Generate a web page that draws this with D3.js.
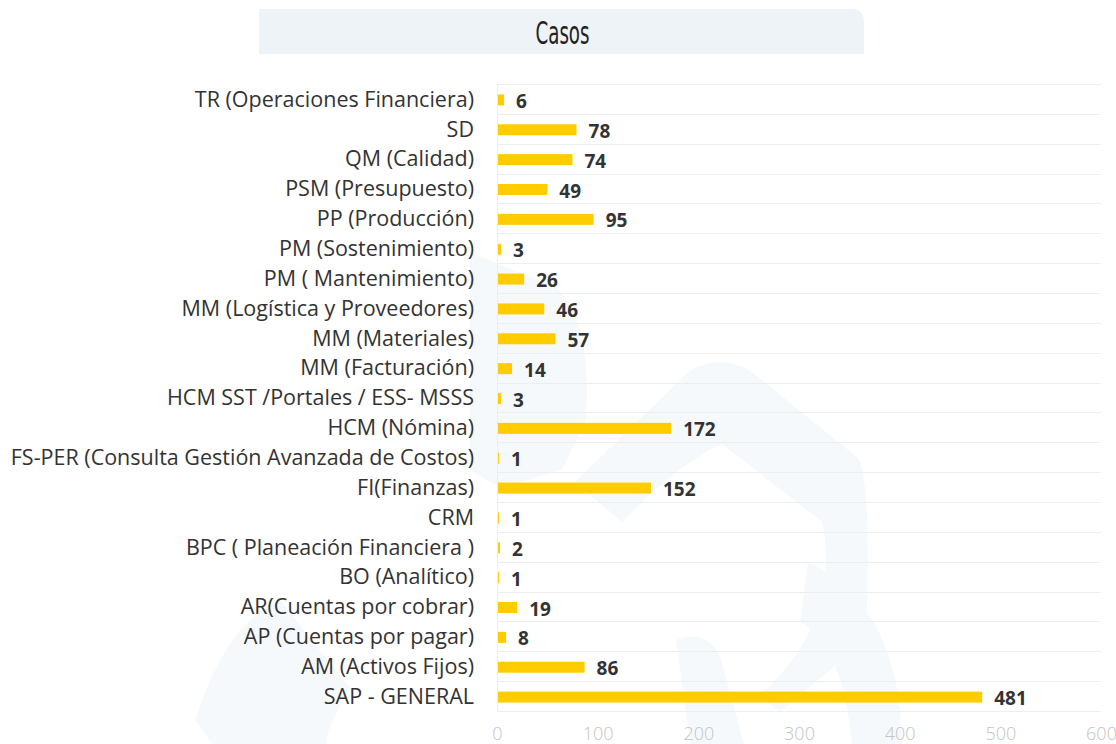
<!DOCTYPE html>
<html>
<head>
<meta charset="utf-8">
<script src="https://cdn.jsdelivr.net/npm/d3@7"></script>
<style>
  html, body { margin: 0; padding: 0; background: #ffffff; }
  svg { display: block; }
</style>
</head>
<body>
<svg id="chart" width="1116" height="744"></svg>
<script>
// ---- data ----
const title = "Casos";
const categories = [
  "TR (Operaciones Financiera)",
  "SD",
  "QM (Calidad)",
  "PSM (Presupuesto)",
  "PP (Producción)",
  "PM (Sostenimiento)",
  "PM ( Mantenimiento)",
  "MM (Logística y Proveedores)",
  "MM (Materiales)",
  "MM (Facturación)",
  "HCM SST /Portales / ESS- MSSS",
  "HCM (Nómina)",
  "FS-PER (Consulta Gestión Avanzada de Costos)",
  "FI(Finanzas)",
  "CRM",
  "BPC ( Planeación Financiera )",
  "BO (Analítico)",
  "AR(Cuentas por cobrar)",
  "AP (Cuentas por pagar)",
  "AM (Activos Fijos)",
  "SAP - GENERAL"
];
const values = [6, 78, 74, 49, 95, 3, 26, 46, 57, 14, 3, 172, 1, 152, 1, 2, 1, 19, 8, 86, 481];
const xTicks = [0, 100, 200, 300, 400, 500, 600];

// ---- layout ----
const svg = d3.select("#chart");
const plot = { left: 497, right: 1101, top: 84, bottom: 711 };

// faint background watermark
const wm = svg.append("g").attr("fill", "#f6f9fc");
wm.append("path").attr("d", "M195,720 Q225,625 280,600 L350,688 Q318,744 330,744 L212,744 Z");
wm.append("path").attr("d", "M470,252 L556,288 Q592,318 586,420 L562,470 L500,488 L470,470 Z");
wm.append("path").attr("d", "M575,482 L688,372 Q720,352 752,372 L858,458 Q872,480 866,640 L780,712 L760,696 Q842,620 822,522 L722,444 Q680,462 622,522 Z");
wm.append("path").attr("d", "M676,640 Q706,628 720,656 L744,744 L690,744 Z");
wm.append("path").attr("d", "M808,562 Q900,606 902,744 L852,744 Q842,644 800,622 Z");

// title box
const bx = 259, by = 9, bw = 605, bh = 45, r = 13;
svg.append("path")
  .attr("d", `M${bx},${by} H${bx + bw - r} Q${bx + bw},${by} ${bx + bw},${by + r} V${by + bh} H${bx} Z`)
  .attr("fill", "#eef3f8");
svg.append("text")
  .attr("x", bx + bw / 2 + 1).attr("y", 44)
  .attr("text-anchor", "middle")
  .attr("font-family", "'Liberation Sans Narrow', 'DejaVu Sans Condensed', sans-serif")
  .attr("font-size", 32)
  .attr("textLength", 54)
  .attr("lengthAdjust", "spacingAndGlyphs")
  .attr("fill", "#222222")
  .text(title);

// scales
const x = d3.scaleLinear().domain([0, 600]).range([plot.left, plot.right]);
const y = d3.scaleBand().domain(categories).range([plot.top, plot.bottom]).paddingInner(0).paddingOuter(0);

// horizontal grid lines at band boundaries
const boundaries = categories.map(c => y(c)).concat([plot.bottom]);
svg.append("g").selectAll("line").data(boundaries).join("line")
  .attr("x1", plot.left).attr("x2", plot.right)
  .attr("y1", d => Math.round(d) + 0.5).attr("y2", d => Math.round(d) + 0.5)
  .attr("stroke", "#eeeeee").attr("stroke-width", 1);

// left axis line
svg.append("line")
  .attr("x1", plot.left + 0.5).attr("x2", plot.left + 0.5)
  .attr("y1", plot.top).attr("y2", plot.bottom)
  .attr("stroke", "#eeeeee").attr("stroke-width", 1);

// bars
const barH = 11;
svg.append("g").selectAll("rect").data(values).join("rect")
  .attr("x", x(0) + 1)
  .attr("y", (d, i) => y(categories[i]) + y.bandwidth() / 2 - barH / 2 + 1)
  .attr("width", d => Math.max(0, x(d) - x(0)))
  .attr("height", barH)
  .attr("fill", "#ffcc00");

// value labels
svg.append("g").selectAll("text").data(values).join("text")
  .attr("x", d => x(d) + 13)
  .attr("y", (d, i) => y(categories[i]) + y.bandwidth() / 2 + 9)
  .attr("font-family", "'Open Sans', sans-serif")
  .attr("font-weight", "bold")
  .attr("font-size", 19)
  .attr("fill", "#333333")
  .text(d => d);

// category labels (y axis)
const yAxis = d3.axisLeft(y).tickSize(0).tickPadding(23);
const gy = svg.append("g").attr("transform", `translate(${plot.left},0)`).call(yAxis);
gy.select(".domain").remove();
gy.selectAll("text")
  .attr("dy", "0.36em")
  .attr("font-family", "'Open Sans', sans-serif")
  .attr("font-size", 21.5)
  .attr("fill", "#333333");

// x axis tick labels
const xAxis = d3.axisBottom(x).tickValues(xTicks).tickSize(0).tickPadding(0);
const gx = svg.append("g").attr("transform", `translate(0,${plot.bottom})`).call(xAxis);
gx.select(".domain").remove();
gx.selectAll("text")
  .attr("y", 29)
  .attr("dy", 0)
  .attr("font-family", "'Open Sans', sans-serif")
  .attr("font-weight", 300)
  .attr("font-size", 18)
  .attr("fill", "#c4c4c4");
</script>
</body>
</html>
